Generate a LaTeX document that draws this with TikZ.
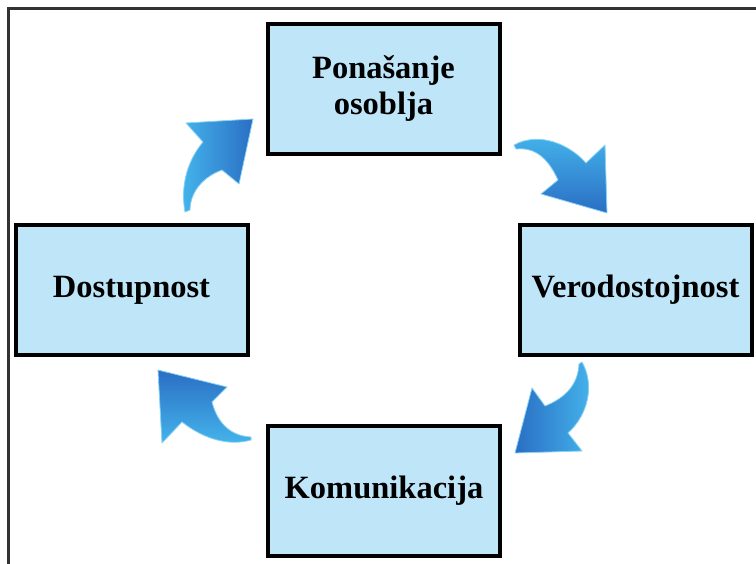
\documentclass[tikz,border=0pt]{standalone}
\usepackage{fontspec}
\setmainfont{Liberation Serif}
\definecolor{boxblue}{HTML}{BFE6F8}
\definecolor{arrlight}{HTML}{45B6EC}
\definecolor{arrdark}{HTML}{2A6EC4}
\definecolor{arrrim}{HTML}{86D2F4}
\definecolor{framegray}{HTML}{333333}
\tikzset{
  stagebox/.style={draw=black, line width=4pt, fill=boxblue, minimum width=232pt,
    minimum height=130pt, inner sep=0pt, align=center,
    font=\fontsize{32.5}{36}\selectfont\bfseries},
  bluearrow/.style={draw=arrrim, line width=0.8pt, line join=round},
}
\begin{document}
\begin{tikzpicture}[x=1pt, y=-1pt]
\useasboundingbox (0,0) rectangle (756,564);
% outer frame (only left and top edges visible)
\draw[framegray, line width=3pt] (8,566) -- (8,9) -- (758,9);

% boxes
\node[stagebox] (pon) at (383.5,89) {Ponašanje\\osoblja};
\node[stagebox] (ver) at (635.5,290) {Verodostojnost};
\node[stagebox] (dos) at (131.5,290) {Dostupnost};
\node[stagebox] (kom) at (384,491) {Komunikacija};

% arrow: Dostupnost -> Ponasanje
\shade[bluearrow, left color=arrlight, right color=arrdark]
  (185,212) .. controls (180,185) and (188,160) .. (203,142)
  -- (186,123) -- (253,119) -- (239,184) -- (222,170)
  .. controls (200,178) and (190,195) .. (190,210) -- cycle;

% arrow: Ponasanje -> Verodostojnost
\shade[bluearrow, top color=arrlight, bottom color=arrdark]
  (514,145) .. controls (540,131) and (570,145) .. (586,163)
  -- (605,145) -- (607,213) -- (541,194) -- (558,180)
  .. controls (548,158) and (535,147) .. (516,149) -- cycle;

% arrow: Verodostojnost -> Komunikacija
\shade[bluearrow, left color=arrdark, right color=arrlight]
  (582,362) .. controls (595,385) and (588,415) .. (568,433)
  -- (582,451) -- (515,453) -- (532,388) -- (545,406)
  .. controls (565,398) and (578,385) .. (579,364) -- cycle;

% arrow: Komunikacija -> Dostupnost
\shade[bluearrow, top color=arrdark, bottom color=arrlight]
  (251,437) .. controls (232,436) and (218,425) .. (212,402)
  -- (227,387) -- (158,370) -- (162,443) -- (182,422)
  .. controls (205,440) and (230,446) .. (251,440) -- cycle;
\end{tikzpicture}
\end{document}
